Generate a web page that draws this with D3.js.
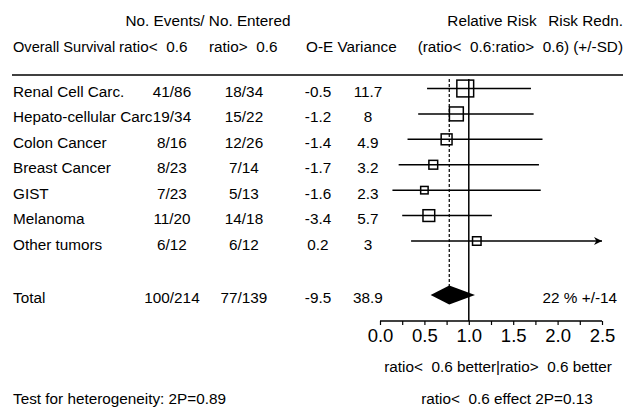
<!DOCTYPE html>
<html>
<head>
<meta charset="utf-8">
<script src="https://cdn.jsdelivr.net/npm/d3@7"></script>
<style>
  body { margin: 0; background: #fff; }
  svg text { font-family: "Liberation Sans", Arial, sans-serif; fill: #000; white-space: pre; }
</style>
</head>
<body>
<div id="mainDiv"></div>
<script>
// Values
const groups = ["Renal Cell Carc.", "Hepato-cellular Carc", "Colon Cancer",
  "Breast Cancer", "GIST", "Melanoma", "Other tumors"];
const eventsLow = ["41/86", "19/34", "8/16", "8/23", "7/23", "11/20", "6/12"];
const eventsHigh = ["18/34", "15/22", "12/26", "7/14", "5/13", "14/18", "6/12"];
const oMinusE = ["-0.5", "-1.2", "-1.4", "-1.7", "-1.6", "-3.4", "0.2"];
const variance = [11.7, 8, 4.9, 3.2, 2.3, 5.7, 3];
const ratio = [0.96, 0.86, 0.75, 0.60, 0.50, 0.55, 1.09];
const ciLow = [0.53, 0.43, 0.31, 0.21, 0.14, 0.25, 0.35];
const ciHigh = [1.70, 1.73, 1.83, 1.79, 1.81, 1.26, 3.31];

const total = {
  label: "Total", eventsLow: "100/214", eventsHigh: "77/139",
  oMinusE: "-9.5", variance: "38.9",
  ratio: 0.78, low: 0.57, high: 1.07, reduction: "22 % +/-14"
};

const axisTicks = [0, 0.5, 1, 1.5, 2, 2.5];
const minorTicks = [0, 0.25, 0.5, 0.75, 1, 1.25, 1.5, 1.75, 2, 2.25, 2.5];

const chart = { width: 640, height: 410, fontSize: 15.3 };

const svg = d3.select("#mainDiv")
  .append("svg")
  .attr("width", chart.width)
  .attr("height", chart.height)
  .attr("viewBox", [0, 0, chart.width, chart.height]);

let x = d3.scaleLinear()
  .domain([0, 2.5])
  .range([380, 602]);

let y = d3.scalePoint()
  .domain(d3.range(groups.length))
  .range([88.5, 241]);

let boxSize = d3.scaleSqrt()
  .domain([0, 11.7])
  .range([0, 16.8]);

const totalY = 295;
const axisY = 321;

function addText(g, str, px, py, anchor, size) {
  return g.append("text")
    .attr("x", px)
    .attr("y", py)
    .attr("text-anchor", anchor || "start")
    .attr("font-size", size || chart.fontSize)
    .text(str);
}

// header
const header = svg.append("g");
addText(header, "No. Events/ No. Entered", 208, 26, "middle");
addText(header, "Relative Risk", 492, 26, "middle");
addText(header, "Risk Redn.", 623, 26, "end");
addText(header, "Overall Survival", 13, 52, "start", 14.6);
addText(header, "ratio<  0.6", 119, 52);
addText(header, "ratio>  0.6", 209, 52);
addText(header, "O-E Variance", 306, 52);
addText(header, "(ratio<  0.6:ratio>  0.6) (+/-SD)", 623, 52, "end");

svg.append("line")
  .attr("x1", 12).attr("x2", 623)
  .attr("y1", 75).attr("y2", 75)
  .attr("stroke", "#000")
  .attr("stroke-width", 1.5);

// table columns
const table = svg.append("g");
table.selectAll("text.group")
  .data(groups)
  .join("text")
  .attr("class", "group")
  .attr("x", 13)
  .attr("y", (d, i) => y(i) + 8.5)
  .attr("font-size", chart.fontSize)
  .text(d => d);

let columns = [
  { values: eventsLow, x: 172 },
  { values: eventsHigh, x: 244 },
  { values: oMinusE, x: 318 },
  { values: variance, x: 368 },
];

columns.forEach(col => {
  table.append("g")
    .selectAll("text")
    .data(col.values)
    .join("text")
    .attr("x", col.x)
    .attr("y", (d, i) => y(i) + 8.5)
    .attr("text-anchor", "middle")
    .attr("font-size", chart.fontSize)
    .text(d => d);
});

addText(table, total.label, 13, totalY + 8);
addText(table, total.eventsLow, 172, totalY + 8, "middle");
addText(table, total.eventsHigh, 244, totalY + 8, "middle");
addText(table, total.oMinusE, 318, totalY + 8, "middle");
addText(table, total.variance, 368, totalY + 8, "middle");
addText(table, total.reduction, 617, totalY + 8, "end");

// reference lines
svg.append("line")
  .attr("x1", x(1)).attr("x2", x(1))
  .attr("y1", 79).attr("y2", axisY)
  .attr("stroke", "#000")
  .attr("stroke-width", 1.5);

svg.append("line")
  .attr("x1", x(total.ratio)).attr("x2", x(total.ratio))
  .attr("y1", 79).attr("y2", totalY + 9)
  .attr("stroke", "#000")
  .attr("stroke-width", 1.2)
  .attr("stroke-dasharray", "3,2");

// arrow marker for intervals that run off the axis
svg.append("defs")
  .append("marker")
  .attr("id", "arrow")
  .attr("viewBox", "0 0 10 10")
  .attr("refX", 10)
  .attr("refY", 5)
  .attr("markerWidth", 10)
  .attr("markerHeight", 8)
  .attr("markerUnits", "userSpaceOnUse")
  .attr("orient", "auto")
  .append("path")
  .attr("d", "M0,0L10,5L0,10L3,5Z")
  .attr("fill", "#000");

const xMax = x.domain()[1];

// confidence intervals
svg.append("g")
  .selectAll("line")
  .data(groups)
  .join("line")
  .attr("x1", (d, i) => x(ciLow[i]))
  .attr("x2", (d, i) => x(Math.min(ciHigh[i], xMax)))
  .attr("y1", (d, i) => y(i))
  .attr("y2", (d, i) => y(i))
  .attr("stroke", "#000")
  .attr("stroke-width", 1.5)
  .attr("marker-end", (d, i) => ciHigh[i] > xMax ? "url(#arrow)" : null);

// boxes, area proportional to variance
svg.append("g")
  .selectAll("rect")
  .data(groups)
  .join("rect")
  .attr("x", (d, i) => x(ratio[i]) - boxSize(variance[i]) / 2)
  .attr("y", (d, i) => y(i) - boxSize(variance[i]) / 2)
  .attr("width", (d, i) => boxSize(variance[i]))
  .attr("height", (d, i) => boxSize(variance[i]))
  .attr("fill", "none")
  .attr("stroke", "#000")
  .attr("stroke-width", 1.5);

// total diamond
svg.append("path")
  .attr("d", d3.line()([
    [x(total.low), totalY],
    [x(total.ratio), totalY - 9.5],
    [x(total.high), totalY],
    [x(total.ratio), totalY + 9.5],
  ]) + "Z")
  .attr("fill", "#000");

// x axis
let xAxis = g => g
  .attr("transform", `translate(0,${axisY})`)
  .call(d3.axisBottom(x)
    .tickValues(minorTicks)
    .tickSize(4)
    .tickFormat(d => axisTicks.includes(d) ? d3.format(".1f")(d) : ""))
  .call(g => g.select(".domain")
    .attr("d", `M${x.range()[0]},0H${x.range()[1]}`)
    .attr("stroke-width", 1.5))
  .call(g => g.selectAll(".tick line").attr("stroke-width", 1.2))
  .call(g => g.selectAll(".tick text")
    .attr("y", 8)
    .attr("font-size", 18.5)
    .attr("font-family", "Liberation Sans, Arial, sans-serif"));

svg.append("g")
  .call(xAxis);

// footer
const footer = svg.append("g");
addText(footer, "ratio<  0.6 better|ratio>  0.6 better", 498, 372, "middle");
addText(footer, "Test for heterogeneity: 2P=0.89", 13, 404);
addText(footer, "ratio<  0.6 effect 2P=0.13", 507, 404, "middle");
</script>
</body>
</html>
